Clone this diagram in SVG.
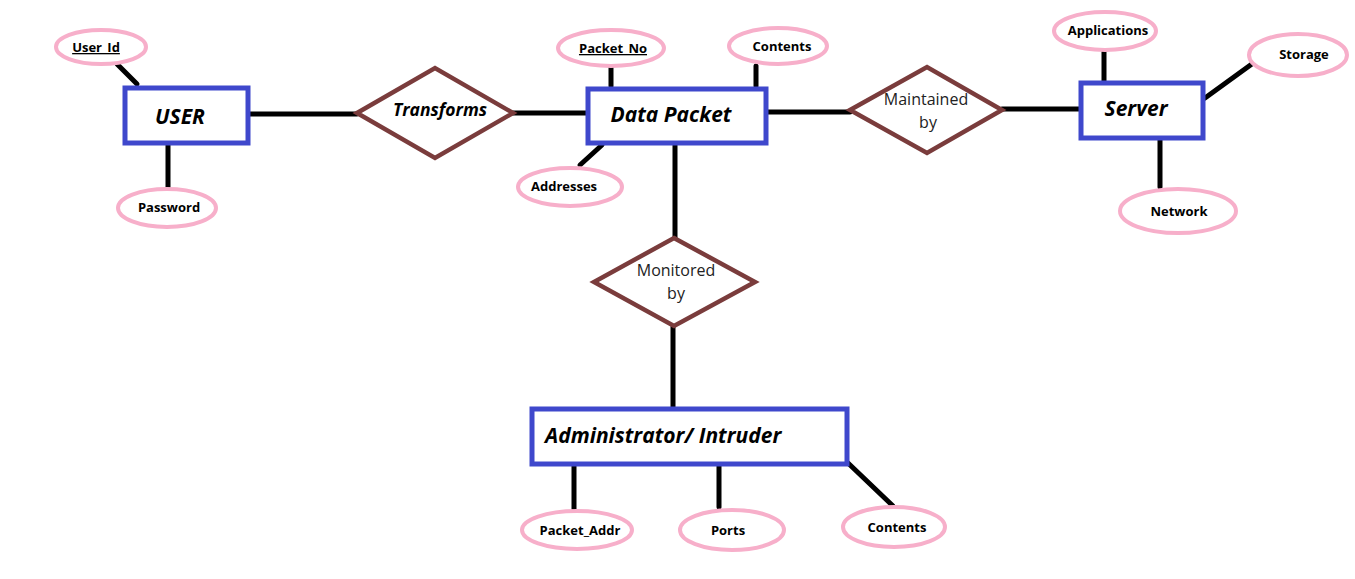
<svg xmlns="http://www.w3.org/2000/svg" width="1355" height="579" viewBox="0 0 1355 579">
<style>
.ent{fill:#fff;stroke:#3F48CC;stroke-width:5}
.rel{fill:#fff;stroke:#7A3C3C;stroke-width:4.5}
.att{fill:#fff;stroke:#F7AFCA;stroke-width:4}
.ln{stroke:#000;stroke-width:5;fill:none;stroke-linecap:round}
.et{font-family:"Open Sans","Noto Sans",sans-serif;font-weight:bold;font-style:italic;font-size:21px;fill:#000}
.rt{font-family:"Open Sans","Noto Sans",sans-serif;font-weight:bold;font-style:italic;font-size:17.5px;fill:#000}
.rn{font-family:"Open Sans","Noto Sans",sans-serif;font-size:16px;fill:#222}
.at{font-family:"Open Sans","Noto Sans",sans-serif;font-weight:bold;font-size:13px;fill:#000}
.u{text-decoration:underline}
</style>
<rect width="1355" height="579" fill="#fff"/>
<g id="connectors">
<line class="ln" x1="117" y1="64" x2="137" y2="84"/>
<line class="ln" x1="168" y1="144" x2="168" y2="187"/>
<line class="ln" x1="249" y1="114" x2="357" y2="114"/>
<line class="ln" x1="513" y1="113" x2="587" y2="113"/>
<line class="ln" x1="611" y1="67" x2="611" y2="86"/>
<line class="ln" x1="756" y1="66" x2="756" y2="86"/>
<line class="ln" x1="580" y1="165" x2="602" y2="145"/>
<line class="ln" x1="675" y1="144" x2="675" y2="238"/>
<line class="ln" x1="768" y1="112" x2="850" y2="112"/>
<line class="ln" x1="1002" y1="109" x2="1081" y2="109"/>
<line class="ln" x1="1104" y1="52" x2="1104" y2="81"/>
<line class="ln" x1="1205" y1="98" x2="1256" y2="61"/>
<line class="ln" x1="1160" y1="139" x2="1160" y2="187"/>
<line class="ln" x1="673" y1="327" x2="673" y2="407"/>
<line class="ln" x1="574" y1="466" x2="574" y2="509"/>
<line class="ln" x1="719" y1="466" x2="719" y2="507"/>
<line class="ln" x1="848" y1="463" x2="893" y2="506"/>
</g>
<g id="user">
<rect class="ent" x="125" y="88" width="123" height="55"/>
<text class="et" x="180" y="124" text-anchor="middle">USER</text>
</g>
<g id="user_id">
<ellipse class="att" cx="101" cy="47" rx="45" ry="17"/>
<text class="at u" x="96" y="52" text-anchor="middle">User_Id</text>
</g>
<g id="password">
<ellipse class="att" cx="167" cy="208" rx="49" ry="19"/>
<text class="at" x="169" y="212" text-anchor="middle">Password</text>
</g>
<g id="transforms">
<polygon class="rel" points="357,113 435,68 513,113 435,158"/>
<text class="rt" x="440" y="116" text-anchor="middle">Transforms</text>
</g>
<g id="data_packet">
<rect class="ent" x="588" y="89" width="178" height="54"/>
<text class="et" x="671" y="122" text-anchor="middle">Data Packet</text>
</g>
<g id="packet_no">
<ellipse class="att" cx="611" cy="48" rx="53" ry="18"/>
<text class="at u" x="613" y="53" text-anchor="middle">Packet_No</text>
</g>
<g id="contents1">
<ellipse class="att" cx="778" cy="46" rx="49" ry="18"/>
<text class="at" x="782" y="51" text-anchor="middle">Contents</text>
</g>
<g id="addresses">
<ellipse class="att" cx="570" cy="187" rx="52" ry="19"/>
<text class="at" x="564" y="191" text-anchor="middle">Addresses</text>
</g>
<g id="maintained_by">
<polygon class="rel" points="850,110 927,67 1002,110 927,153"/>
<text class="rn" x="926" y="105" text-anchor="middle">Maintained</text>
<text class="rn" x="928" y="128" text-anchor="middle">by</text>
</g>
<g id="server">
<rect class="ent" x="1081" y="83" width="122" height="55"/>
<text class="et" x="1136" y="116" text-anchor="middle">Server</text>
</g>
<g id="applications">
<ellipse class="att" cx="1105" cy="31" rx="51" ry="19"/>
<text class="at" x="1108" y="35" text-anchor="middle">Applications</text>
</g>
<g id="storage">
<ellipse class="att" cx="1298" cy="55" rx="49" ry="21"/>
<text class="at" x="1304" y="59" text-anchor="middle">Storage</text>
</g>
<g id="network">
<ellipse class="att" cx="1178" cy="211" rx="58" ry="22"/>
<text class="at" x="1179" y="216" text-anchor="middle">Network</text>
</g>
<g id="monitored_by">
<polygon class="rel" points="674,238 755,282 674,326 594,282"/>
<text class="rn" x="676" y="276" text-anchor="middle">Monitored</text>
<text class="rn" x="676" y="299" text-anchor="middle">by</text>
</g>
<g id="administrator">
<rect class="ent" x="532" y="409" width="315" height="55"/>
<text class="et" x="545" y="443">Administrator/ Intruder</text>
</g>
<g id="packet_addr">
<ellipse class="att" cx="577" cy="530" rx="55" ry="19"/>
<text class="at" x="580" y="535" text-anchor="middle">Packet_Addr</text>
</g>
<g id="ports">
<ellipse class="att" cx="732" cy="530" rx="52" ry="20"/>
<text class="at" x="728" y="535" text-anchor="middle">Ports</text>
</g>
<g id="contents2">
<ellipse class="att" cx="894" cy="527" rx="51" ry="20"/>
<text class="at" x="897" y="532" text-anchor="middle">Contents</text>
</g>
</svg>
